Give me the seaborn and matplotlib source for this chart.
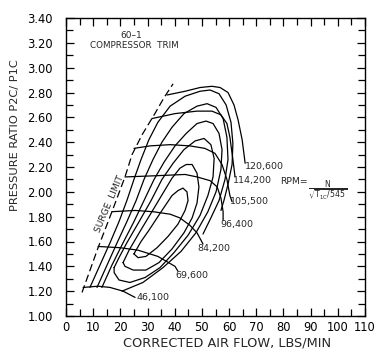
import matplotlib
matplotlib.use("Agg")
import matplotlib.pyplot as plt
import seaborn as sns
from matplotlib.ticker import MultipleLocator, FormatStrFormatter

# ---------------- data ----------------
# surge limit (dashed)
surge_x = [5.9, 11.8, 16.9, 21.7, 24.3, 28.0, 32.7, 36.1, 39.4]
surge_y = [1.19, 1.55, 1.84, 2.12, 2.30, 2.46, 2.63, 2.76, 2.87]

# constant-speed lines
speed_labels = ["46,100", "69,600", "84,200", "96,400", "105,500", "114,200", "120,600"]
s46_x = [6.3, 11.8, 16.2, 21.0, 25.4]
s46_y = [1.23, 1.24, 1.23, 1.20, 1.15]
s69_x = [11.8, 19.9, 26.5, 33.8, 40.1, 41.2]
s69_y = [1.56, 1.55, 1.53, 1.48, 1.40, 1.36]
s84_x = [16.9, 25.4, 32.0, 38.3, 41.9, 45.6, 48.2, 50.4]
s84_y = [1.84, 1.85, 1.84, 1.82, 1.79, 1.73, 1.67, 1.58]
s96_x = [21.7, 33.5, 43.8, 48.2, 53.0, 55.6, 57.0, 57.8, 57.8]
s96_y = [2.12, 2.13, 2.14, 2.12, 2.09, 2.04, 1.95, 1.84, 1.77]
s105_x = [25.0, 30.9, 38.3, 45.6, 51.1, 54.8, 57.4, 59.2, 60.3, 61.1]
s105_y = [2.35, 2.37, 2.38, 2.37, 2.35, 2.31, 2.22, 2.10, 1.97, 1.92]
s114_x = [31.6, 40.1, 48.2, 53.7, 57.0, 59.2, 60.3, 61.4, 62.2]
s114_y = [2.59, 2.63, 2.65, 2.65, 2.62, 2.55, 2.44, 2.26, 2.12]
s120_x = [37.2, 43.8, 49.3, 53.7, 56.7, 59.6, 61.8, 63.3, 64.8, 65.5, 65.9]
s120_y = [2.78, 2.81, 2.84, 2.85, 2.84, 2.80, 2.70, 2.58, 2.42, 2.30, 2.23]

# speed-label anchor points (left edge of text)
lab_x = [26.1, 40.1, 48.2, 56.7, 60.3, 61.4, 65.9]
lab_y = [1.145, 1.33, 1.54, 1.74, 1.92, 2.09, 2.20]

# efficiency islands (innermost c1 ... outermost c6)
c1_x = [25.0, 27.6, 30.5, 35.3, 39.0, 41.2, 43.0, 44.5, 44.9, 43.8, 41.2, 37.5, 33.5, 29.4, 26.5, 25.0]
c1_y = [1.50, 1.60, 1.69, 1.85, 1.97, 2.01, 2.03, 2.00, 1.93, 1.85, 1.74, 1.64, 1.55, 1.48, 1.47, 1.50]
c2_x = [21.0, 23.2, 27.2, 31.6, 35.7, 39.0, 41.9, 44.2, 46.4, 48.2, 48.9, 48.2, 46.4, 43.4, 39.0, 34.2, 29.4, 24.7, 21.7, 21.0]
c2_y = [1.43, 1.53, 1.68, 1.84, 1.99, 2.11, 2.19, 2.22, 2.22, 2.15, 2.04, 1.91, 1.79, 1.67, 1.54, 1.43, 1.37, 1.37, 1.40, 1.43]
c3_x = [17.7, 19.5, 22.4, 26.9, 31.3, 35.3, 39.4, 43.4, 47.5, 50.8, 53.3, 54.5, 54.1, 52.2, 49.3, 44.9, 39.7, 34.6, 29.1, 23.5, 19.5, 17.7, 17.7]
c3_y = [1.39, 1.47, 1.59, 1.76, 1.93, 2.10, 2.23, 2.34, 2.41, 2.43, 2.38, 2.27, 2.12, 1.97, 1.81, 1.65, 1.51, 1.39, 1.31, 1.27, 1.29, 1.35, 1.39]
c4_x = [13.2, 16.9, 21.0, 25.0, 28.7, 32.4, 36.1, 40.1, 44.2, 48.2, 51.5, 54.1, 56.3, 57.4, 57.0, 55.2, 52.2, 47.8, 42.3, 35.7, 28.3, 20.6]
c4_y = [1.23, 1.41, 1.59, 1.76, 1.93, 2.10, 2.24, 2.37, 2.47, 2.55, 2.57, 2.55, 2.47, 2.34, 2.18, 2.00, 1.84, 1.67, 1.52, 1.39, 1.27, 1.20]
c5_x = [11.4, 15.1, 18.8, 22.4, 25.8, 28.7, 32.0, 35.3, 39.0, 43.4, 48.2, 51.9, 55.2, 57.8, 59.2, 59.6, 58.5, 56.3, 53.3, 50.4]
c5_y = [1.23, 1.41, 1.59, 1.76, 1.93, 2.10, 2.26, 2.40, 2.52, 2.63, 2.69, 2.71, 2.68, 2.59, 2.44, 2.26, 2.10, 1.93, 1.79, 1.66]
c6_x = [8.8, 12.5, 16.2, 19.5, 22.4, 25.0, 27.6, 30.5, 33.8, 38.3, 43.8, 49.3, 53.0, 56.3, 58.9, 60.7, 61.4, 61.1, 59.6, 58.1, 57.0]
c6_y = [1.23, 1.41, 1.59, 1.76, 1.93, 2.10, 2.26, 2.42, 2.56, 2.69, 2.77, 2.81, 2.82, 2.79, 2.70, 2.56, 2.39, 2.22, 2.06, 1.93, 1.85]

x_ticks = list(range(0, 111, 10))
y_ticks = [1.00, 1.20, 1.40, 1.60, 1.80, 2.00, 2.20, 2.40, 2.60, 2.80, 3.00, 3.20, 3.40]

# ---------------- figure ----------------
sns.set_style("ticks")
plt.rcParams["font.family"] = ["DejaVu Sans"]
plt.rcParams["mathtext.fontset"] = "dejavusans"

fig = plt.figure(figsize=(3.77, 3.55), dpi=100)
ax = fig.add_axes([66 / 377, 1 - 316 / 355, 299 / 377, 298 / 355])

lw = 0.9
kw = dict(ax=ax, sort=False, estimator=None, color="black", linewidth=lw)

speed_x = [s46_x, s69_x, s84_x, s96_x, s105_x, s114_x, s120_x]
speed_y = [s46_y, s69_y, s84_y, s96_y, s105_y, s114_y, s120_y]
for sx, sy in zip(speed_x, speed_y):
    sns.lineplot(x=sx, y=sy, **kw)

for cx, cy in zip([c1_x, c2_x, c3_x, c4_x, c5_x, c6_x], [c1_y, c2_y, c3_y, c4_y, c5_y, c6_y]):
    sns.lineplot(x=cx, y=cy, **kw)

sns.lineplot(x=surge_x, y=surge_y, ax=ax, sort=False, estimator=None,
             color="black", linewidth=lw, linestyle=(0, (6, 3)))

for lx, ly, t in zip(lab_x, lab_y, speed_labels):
    ax.text(lx, ly, t, fontsize=6.8, ha="left", va="center")

ax.text(16.0, 1.90, "SURGE  LIMIT", fontsize=6.6, rotation=67, ha="center", va="center")
ax.text(24.0, 3.263, "60\u20131", fontsize=6.5, ha="center", va="center")
ax.text(25.2, 3.18, "COMPRESSOR  TRIM", fontsize=6.3, ha="center", va="center")
ax.text(78.7, 2.087, "RPM=", fontsize=6.7, ha="left", va="center")
ax.text(96.3, 2.02, r"$\dfrac{\mathrm{N}}{\sqrt{\mathrm{T_{1C}}/545}}$", fontsize=5.6,
        ha="center", va="center")

ax.set_xlim(0, 110)
ax.set_ylim(1.0, 3.4)
ax.set_xticks(x_ticks)
ax.set_yticks(y_ticks)
ax.xaxis.set_minor_locator(MultipleLocator(5))
ax.yaxis.set_minor_locator(MultipleLocator(0.1))
ax.yaxis.set_major_formatter(FormatStrFormatter("%.2f"))
ax.tick_params(which="both", direction="in", top=True, right=True, width=0.9, colors="black")
ax.tick_params(which="major", length=6)
ax.tick_params(which="minor", length=5)
ax.tick_params(axis="x", which="major", labelsize=8.3, pad=3.6)
ax.tick_params(axis="y", which="major", labelsize=8.3, pad=9.4)
for sp in ax.spines.values():
    sp.set_visible(True)
    sp.set_color("black")
    sp.set_linewidth(1.0)

ax.set_xlabel("CORRECTED AIR FLOW, LBS/MIN", fontsize=9.3)
ax.xaxis.set_label_coords(0.54, -0.09)
ax.xaxis.label.set_va("center")
ax.set_ylabel("PRESSURE RATIO P2C/ P1C", fontsize=8.2)
ax.yaxis.set_label_coords(-0.17, 0.607)
ax.yaxis.label.set_va("center")

fig.savefig("out.png", dpi=100)
